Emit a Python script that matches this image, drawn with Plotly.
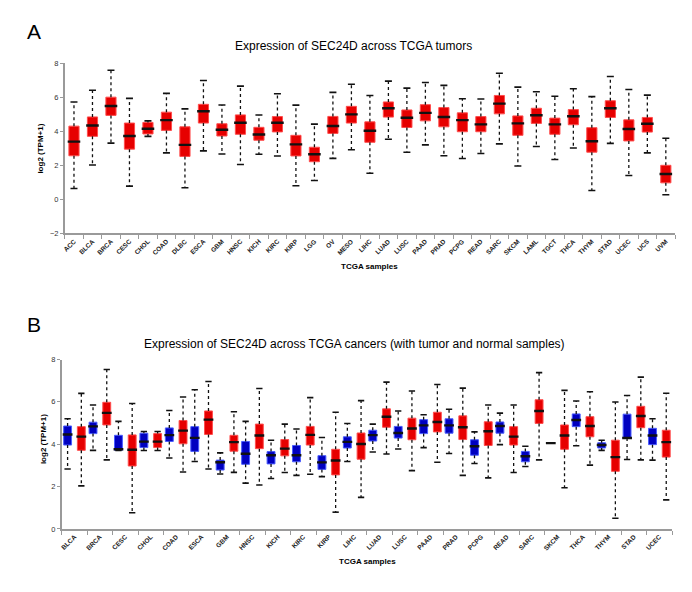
import plotly.graph_objects as go

# ---------------- Panel A data (tumor samples) ----------------
tumors_A = ["ACC", "BLCA", "BRCA", "CESC", "CHOL", "COAD", "DLBC", "ESCA", "GBM", "HNSC",
            "KICH", "KIRC", "KIRP", "LGG", "OV", "MESO", "LIHC", "LUAD", "LUSC", "PAAD",
            "PRAD", "PCPG", "READ", "SARC", "SKCM", "LAML", "TGCT", "THCA", "THYM", "STAD",
            "UCEC", "UCS", "UVM"]
A_max = [5.72, 6.41, 7.58, 5.93, 4.61, 6.22, 5.31, 6.98, 5.54, 6.65,
         4.95, 6.20, 5.53, 4.42, 6.28, 6.76, 6.10, 6.94, 6.53, 6.86,
         6.69, 5.91, 5.89, 7.40, 6.59, 6.32, 6.05, 6.49, 6.03, 7.21,
         6.45, 6.12, 3.59]
A_q3 = [4.30, 4.84, 6.00, 4.48, 4.52, 5.12, 4.26, 5.58, 4.44, 4.96,
        4.23, 4.86, 3.76, 3.06, 4.87, 5.46, 4.55, 5.72, 5.25, 5.56,
        5.39, 5.08, 4.86, 6.10, 4.90, 5.35, 4.77, 5.27, 4.21, 5.79,
        4.67, 4.81, 2.00]
A_med = [3.39, 4.34, 5.48, 3.72, 4.15, 4.65, 3.20, 5.17, 4.09, 4.50,
         3.81, 4.50, 3.23, 2.65, 4.31, 4.99, 4.03, 5.35, 4.79, 5.08,
         4.84, 4.65, 4.40, 5.62, 4.46, 4.94, 4.40, 4.88, 3.41, 5.35,
         4.13, 4.44, 1.49]
A_q1 = [2.56, 3.70, 4.93, 2.95, 3.84, 4.05, 2.52, 4.48, 3.72, 3.82,
        3.47, 3.96, 2.55, 2.21, 3.87, 4.48, 3.35, 4.83, 4.22, 4.61,
        4.26, 3.97, 3.97, 5.02, 3.76, 4.46, 3.82, 4.38, 2.77, 4.81,
        3.43, 3.95, 0.97]
A_min = [0.64, 2.02, 3.30, 0.78, 3.70, 2.73, 0.68, 2.85, 2.66, 2.05,
         2.65, 2.55, 0.80, 1.11, 2.41, 2.91, 1.53, 3.53, 2.77, 3.20,
         2.56, 2.40, 2.69, 3.26, 1.96, 3.10, 2.34, 3.02, 0.52, 3.29,
         1.40, 2.73, 0.27]

# ---------------- Panel B data (normal vs tumor) ----------------
cancers_B = ["BLCA", "BRCA", "CESC", "CHOL", "COAD", "ESCA", "GBM", "HNSC", "KICH", "KIRC",
             "KIRP", "LIHC", "LUAD", "LUSC", "PAAD", "PRAD", "PCPG", "READ", "SARC", "SKCM",
             "THCA", "THYM", "STAD", "UCEC"]
N_max = [5.20, 5.85, 5.08, 4.60, 5.59, 6.57, 3.59, 5.08, 4.19, 4.72,
         4.32, 4.98, 4.95, 5.57, 5.39, 5.65, 4.58, 5.47, 3.90, 4.05,
         6.04, 4.19, 6.30, 5.20]
N_q3 = [4.86, 5.04, 4.42, 4.52, 4.77, 4.83, 3.25, 4.13, 3.65, 3.94,
        3.46, 4.35, 4.66, 4.84, 5.16, 5.20, 4.21, 5.05, 3.66, 4.05,
        5.43, 4.07, 5.42, 4.75]
N_med = [4.46, 4.84, 3.76, 4.12, 4.43, 4.30, 3.15, 3.55, 3.48, 3.48,
         3.14, 4.11, 4.43, 4.53, 4.89, 4.89, 3.90, 4.86, 3.43, 4.05,
         5.14, 3.96, 4.29, 4.41]
N_q1 = [3.96, 4.50, 3.72, 3.84, 4.13, 3.66, 2.78, 3.05, 3.07, 3.17,
        2.81, 3.82, 4.15, 4.29, 4.50, 4.52, 3.48, 4.52, 3.17, 4.05,
        4.83, 3.82, 4.29, 3.98]
N_min = [2.83, 3.71, 3.70, 3.70, 3.35, 3.18, 2.59, 2.16, 2.38, 2.53,
         2.47, 3.18, 3.63, 3.77, 3.84, 3.56, 3.09, 3.98, 2.95, 4.05,
         3.93, 3.71, 3.28, 3.25]
T_max = [6.40, 7.53, 5.92, 4.60, 6.23, 6.96, 5.53, 6.63, 4.95, 6.20,
         5.51, 6.06, 6.93, 6.51, 6.82, 6.65, 5.85, 5.85, 7.38, 6.54,
         6.48, 5.99, 7.17, 6.41]
T_q3 = [4.83, 5.98, 4.44, 4.50, 5.12, 5.57, 4.42, 4.95, 4.22, 4.84,
        3.76, 4.53, 5.67, 5.23, 5.51, 5.34, 5.06, 4.83, 6.10, 4.91,
        5.30, 4.19, 5.79, 4.66]
T_med = [4.36, 5.48, 3.74, 4.12, 4.64, 5.16, 4.10, 4.41, 3.79, 4.44,
         3.23, 4.01, 5.30, 4.74, 5.05, 4.80, 4.61, 4.36, 5.57, 4.41,
         4.86, 3.39, 5.33, 4.10]
T_q1 = [3.71, 4.91, 2.97, 3.84, 4.02, 4.46, 3.67, 3.79, 3.45, 3.96,
        2.55, 3.29, 4.80, 4.21, 4.58, 4.22, 3.94, 3.96, 4.98, 3.76,
        4.35, 2.72, 4.78, 3.39]
T_min = [2.03, 3.26, 0.76, 3.70, 2.69, 2.83, 2.67, 2.07, 2.66, 2.58,
         0.79, 1.49, 3.54, 2.75, 3.15, 2.53, 2.41, 2.66, 3.26, 1.94,
         3.01, 0.50, 3.26, 1.37]

A_yticks = [-2, 0, 2, 4, 6, 8]
B_yticks = [0, 2, 4, 6, 8]

RED, RED_EDGE = "#E60000", "#FF4D4D"
BLUE, BLUE_EDGE = "#0000C0", "#4A5CFF"
FONT = "Liberation Sans, Arial, sans-serif"
AXC = "#9A9A9A"

fig = go.Figure()


def add_boxes(xs, mx, q3, med, q1, mn, color, edge, width, med_size, cap_size, xa, ya):
    # box body
    fig.add_trace(go.Bar(x=xs, y=[a - b for a, b in zip(q3, q1)], base=q1, width=width,
                         marker=dict(color=color, line=dict(color=edge, width=1)),
                         xaxis=xa, yaxis=ya, showlegend=False, hoverinfo="skip"))
    # whiskers (dotted)
    wx, wy = [], []
    for x, a, b, c, d in zip(xs, mx, q3, q1, mn):
        wx += [x, x, None, x, x, None]
        wy += [b, a, None, c, d, None]
    fig.add_trace(go.Scatter(x=wx, y=wy, mode="lines",
                             line=dict(color="#111111", width=1.3, dash="dot"),
                             xaxis=xa, yaxis=ya, showlegend=False, hoverinfo="skip"))
    # caps
    fig.add_trace(go.Scatter(x=list(xs) + list(xs), y=list(mx) + list(mn), mode="markers",
                             marker=dict(symbol="line-ew", size=cap_size,
                                         line=dict(color="#111111", width=1.6)),
                             xaxis=xa, yaxis=ya, showlegend=False, hoverinfo="skip"))
    # medians
    fig.add_trace(go.Scatter(x=xs, y=med, mode="markers",
                             marker=dict(symbol="line-ew", size=med_size,
                                         line=dict(color="#111111", width=2.4)),
                             xaxis=xa, yaxis=ya, showlegend=False, hoverinfo="skip"))


idxA = list(range(len(tumors_A)))
add_boxes(idxA, A_max, A_q3, A_med, A_q1, A_min, RED, RED_EDGE, 0.55, 9, 5, "x", "y")

idxB = list(range(len(cancers_B)))
xN = [i - 0.27 for i in idxB]
xT = [i + 0.27 for i in idxB]
add_boxes(xN, N_max, N_q3, N_med, N_q1, N_min, BLUE, BLUE_EDGE, 0.31, 7, 4.5, "x2", "y2")
add_boxes(xT, T_max, T_q3, T_med, T_q1, T_min, RED, RED_EDGE, 0.31, 7, 4.5, "x2", "y2")

W, H = 692, 592


def px_x(p):
    return p / W


def px_y(p):
    return 1 - p / H


xcommon = dict(showline=True, linecolor=AXC, linewidth=1.5, showgrid=False, zeroline=False,
               ticks="", tickangle=-45,
               tickfont=dict(family=FONT, size=6.5, color="#222222", weight="bold"),
               minor=dict(ticks="outside", ticklen=4, tickcolor=AXC, tickwidth=1,
                          tickmode="linear", tick0=0.5, dtick=1, showgrid=False))
ycommon = dict(showline=True, linecolor=AXC, linewidth=1.5, showgrid=False, zeroline=False,
               ticks="outside", ticklen=3, tickcolor=AXC, tickwidth=1,
               tickfont=dict(family=FONT, size=7.5, color="#333333"))

fig.update_layout(
    width=W, height=H, autosize=False,
    margin=dict(l=0, r=0, t=0, b=0),
    paper_bgcolor="white", plot_bgcolor="white",
    barmode="overlay", showlegend=False,
    xaxis=dict(domain=[px_x(62), px_x(675)], anchor="y", range=[-0.5, len(tumors_A) - 0.5],
               tickmode="array", tickvals=idxA, ticktext=tumors_A, **xcommon),
    yaxis=dict(domain=[px_y(233), px_y(60)], anchor="x", range=[-2, 8],
               tickmode="array", tickvals=A_yticks, **ycommon),
    xaxis2=dict(domain=[px_x(59), px_x(672)], anchor="y2", range=[-0.5, len(cancers_B) - 0.5],
                tickmode="array", tickvals=idxB, ticktext=cancers_B, **xcommon),
    yaxis2=dict(domain=[px_y(533), px_y(361)], anchor="x2", range=[0, 8],
                tickmode="array", tickvals=B_yticks, **ycommon),
)

ann = [
    dict(text="A", x=px_x(22), y=px_y(28), xanchor="left", yanchor="middle",
         font=dict(family=FONT, size=21, color="black")),
    dict(text="Expression of SEC24D across TCGA tumors", x=px_x(352), y=px_y(43),
         xanchor="center", yanchor="middle", font=dict(family=FONT, size=12, color="black")),
    dict(text="log2 (TPM+1)", x=px_x(38), y=px_y(147), textangle=-90,
         xanchor="center", yanchor="middle",
         font=dict(family=FONT, size=8, color="black", weight="bold")),
    dict(text="TCGA samples", x=px_x(368), y=px_y(267), xanchor="center", yanchor="middle",
         font=dict(family=FONT, size=8, color="black", weight="bold")),
    dict(text="B", x=px_x(22), y=px_y(325), xanchor="left", yanchor="middle",
         font=dict(family=FONT, size=21, color="black")),
    dict(text="Expression of SEC24D across TCGA cancers (with tumor and normal samples)",
         x=px_x(353), y=px_y(345), xanchor="center", yanchor="middle",
         font=dict(family=FONT, size=12, color="black")),
    dict(text="log2 (TPM+1)", x=px_x(40), y=px_y(442), textangle=-90,
         xanchor="center", yanchor="middle",
         font=dict(family=FONT, size=8, color="black", weight="bold")),
    dict(text="TCGA samples", x=px_x(366), y=px_y(566), xanchor="center", yanchor="middle",
         font=dict(family=FONT, size=8, color="black", weight="bold")),
]
for a in ann:
    a.update(xref="paper", yref="paper", showarrow=False)
fig.update_layout(annotations=ann)

fig.write_html("out.html", config={"displayModeBar": False},
               post_script="document.body.style.margin='0';document.body.style.overflow='hidden';")
